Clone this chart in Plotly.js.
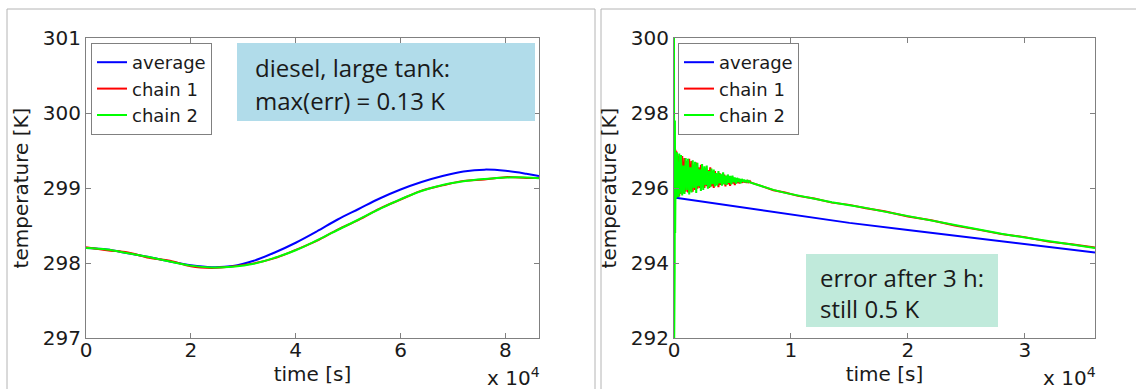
<!DOCTYPE html>
<html>
<head>
<meta charset="utf-8">
<script src="https://cdn.plot.ly/plotly-3.0.1.min.js"></script>
<style>
html,body{margin:0;padding:0;background:#fff;}
#chart{width:1136px;height:389px;}
</style>
</head>
<body>
<div id="chart"></div>
<script>
// ---------- Data: left panel (diesel, large tank) ----------
const timeLeft = [0, 4000, 8000, 12000, 16000, 20000, 24000, 28000, 32000, 36000, 40000, 44000,
  48000, 52000, 56000, 60000, 64000, 68000, 72000, 76000, 80000, 84000, 86400];
const avgLeft = [298.20, 298.18, 298.13, 298.08, 298.02, 297.97, 297.945, 297.96, 298.03, 298.14,
  298.27, 298.42, 298.58, 298.72, 298.86, 298.98, 299.08, 299.16, 299.22, 299.245, 299.23, 299.19, 299.16];
const chain1Left = [298.21, 298.17, 298.14, 298.07, 298.03, 297.955, 297.935, 297.955, 297.995, 298.065,
  298.175, 298.295, 298.445, 298.575, 298.725, 298.845, 298.965, 299.035, 299.095, 299.115, 299.145, 299.135, 299.135];
const chain2Left = [298.20, 298.18, 298.13, 298.08, 298.02, 297.965, 297.94, 297.95, 297.99, 298.07,
  298.17, 298.30, 298.44, 298.58, 298.72, 298.85, 298.96, 299.04, 299.09, 299.12, 299.14, 299.14, 299.13];

// ---------- Data: right panel ----------
const timeAvgRight = [0, 5000, 10000, 15000, 20000, 25000, 30000, 36000];
const avgRight = [295.75, 295.52, 295.29, 295.07, 294.88, 294.69, 294.50, 294.28];

const timeRight = [0, 20, 40, 60, 80, 100, 125, 150, 200, 250, 300, 350, 400, 450, 500,
  600, 700, 800, 900, 1000, 1100, 1200, 1300, 1400, 1500, 1600, 1700, 1800, 1900, 2000,
  2100, 2200, 2300, 2400, 2500, 2600, 2700, 2800, 2900, 3000, 3100, 3200, 3300, 3400, 3500,
  3600, 3700, 3800, 3900, 4000, 4100, 4200, 4300, 4400, 4500, 4600, 4700, 4800, 4900, 5000,
  5100, 5200, 5300, 5400, 5500, 5600, 5700, 5800, 5900, 6000, 6100, 6200, 6300, 6400, 6500, 6600,
  7500, 8500, 9500, 10600, 12000, 13500, 15000, 16400, 18000, 20000, 22000, 24000, 26000,
  28000, 30000, 32000, 34000, 36000];
const chain2Right = [300.0, 292.0, 299.0, 293.8, 297.8, 294.8, 295.2, 296.9, 295.73, 296.95, 295.78, 296.7, 295.76, 296.92, 295.85,
  296.88, 295.8, 296.6, 295.84, 296.8, 295.95, 296.78, 295.83, 296.55, 295.88, 296.74, 296.0, 296.7, 295.87, 296.67,
  296.05, 296.5, 295.92, 296.64, 295.95, 296.58, 296.08, 296.6, 295.98, 296.45, 296.02, 296.52, 296.1, 296.49, 296.04,
  296.4, 296.06, 296.45, 296.12, 296.38, 296.06, 296.42, 296.1, 296.33, 296.08, 296.36, 296.14, 296.32, 296.1, 296.33,
  296.15, 296.28, 296.12, 296.27, 296.16, 296.25, 296.13, 296.24, 296.17, 296.22, 296.15, 296.21, 296.16, 296.19, 296.15, 296.14,
  296.04, 295.95, 295.87, 295.80, 295.71, 295.62, 295.54, 295.47, 295.37, 295.25, 295.13, 295.01, 294.88,
  294.78, 294.68, 294.58, 294.49, 294.40];
const chain1Right = [297.0, 295.7, 297.05, 295.72, 296.98, 295.75, 297.02, 295.74, 296.98, 295.76, 296.9, 295.8, 296.85, 295.78, 296.82,
  295.85, 296.85, 295.86, 296.8, 295.9, 296.72, 295.88, 296.78, 295.92, 296.72, 295.9, 296.6, 295.95, 296.68, 295.98,
  296.55, 296.0, 296.62, 296.02, 296.5, 296.0, 296.52, 296.05, 296.48, 296.0, 296.55, 296.04, 296.42, 296.0, 296.45,
  296.08, 296.38, 296.02, 296.4, 296.08, 296.35, 296.1, 296.36, 296.04, 296.32, 296.1, 296.3, 296.06, 296.3, 296.12,
  296.27, 296.08, 296.26, 296.13, 296.24, 296.12, 296.23, 296.14, 296.21, 296.15, 296.2, 296.14, 296.19, 296.15, 296.18, 296.14,
  296.05, 295.94, 295.88, 295.79, 295.72, 295.61, 295.55, 295.46, 295.38, 295.24, 295.14, 295.00, 294.89,
  294.77, 294.69, 294.57, 294.50, 294.41];

// ---------- Tick labels ----------
const tickValsLeftX = [0, 20000, 40000, 60000, 80000];
const tickTextLeftX = ['0', '2', '4', '6', '8'];
const tickValsRightX = [0, 10000, 20000, 30000];
const tickTextRightX = ['0', '1', '2', '3'];
const seriesNames = ['average', 'chain 1', 'chain 2'];
const seriesColors = ['#0000ff', '#ff0000', '#00ff00'];

// ---------- Layout helpers ----------
const W = 1136, H = 389;
const px = x => x / W;
const py = y => 1 - y / H;
const mFont = {family: 'DejaVu Sans, Liberation Sans, sans-serif', size: 20, color: '#1a1a1a'};
const legFont = {family: 'DejaVu Sans, Liberation Sans, sans-serif', size: 18, color: '#1a1a1a'};
const boxFont = {family: 'Open Sans, sans-serif', size: 24, color: '#1a1a1a'};

function axisBase(extra) {
  return Object.assign({
    showgrid: false, zeroline: false, showline: true, linecolor: '#808080', linewidth: 1,
    mirror: 'ticks', ticks: 'inside', ticklen: 5, tickcolor: '#808080', tickwidth: 1,
    tickfont: mFont, fixedrange: true
  }, extra);
}

const traces = [];
const leftY = [avgLeft, chain1Left, chain2Left];
for (let i = 0; i < 3; i++) {
  traces.push({
    x: timeLeft, y: leftY[i], type: 'scatter', mode: 'lines', name: seriesNames[i],
    line: {color: seriesColors[i], width: 2, shape: 'spline'},
    xaxis: 'x', yaxis: 'y', legend: 'legend'
  });
}
const rightX = [timeAvgRight, timeRight, timeRight];
const rightY = [avgRight, chain1Right, chain2Right];
for (let i = 0; i < 3; i++) {
  traces.push({
    x: rightX[i], y: rightY[i], type: 'scatter', mode: 'lines', name: seriesNames[i],
    line: {color: seriesColors[i], width: 2},
    xaxis: 'x2', yaxis: 'y2', legend: 'legend2'
  });
}

const legendBase = {
  xanchor: 'left', yanchor: 'top', bgcolor: '#ffffff', bordercolor: '#808080', borderwidth: 1,
  font: legFont, tracegroupgap: 0, itemwidth: 30
};

const frameColor = '#b4b4b4';
const layout = {
  width: W, height: H, autosize: false,
  margin: {l: 0, r: 0, t: 0, b: 0, pad: 0},
  paper_bgcolor: '#ffffff', plot_bgcolor: '#ffffff',
  showlegend: true,
  xaxis: axisBase({domain: [px(86), px(539)], range: [0, 86400], tickvals: tickValsLeftX, ticktext: tickTextLeftX,
    anchor: 'y', ticklabelstandoff: -6, title: {text: 'time [s]', font: mFont, standoff: 4}}),
  yaxis: axisBase({domain: [py(338), py(38)], range: [297, 301], dtick: 1, tick0: 297,
    anchor: 'x', title: {text: 'temperature [K]', font: mFont, standoff: 8}}),
  xaxis2: axisBase({domain: [px(674), px(1095)], range: [0, 36000], tickvals: tickValsRightX, ticktext: tickTextRightX,
    anchor: 'y2', ticklabelstandoff: -6, title: {text: 'time [s]', font: mFont, standoff: 4}}),
  yaxis2: axisBase({domain: [py(338), py(38)], range: [292, 300], dtick: 2, tick0: 292,
    anchor: 'x2', title: {text: 'temperature [K]', font: mFont, standoff: 8}}),
  legend: Object.assign({x: px(91), y: py(43)}, legendBase),
  legend2: Object.assign({x: px(678), y: py(43)}, legendBase),
  shapes: [
    // panel frames
    {type: 'line', xref: 'paper', yref: 'paper', x0: px(7), x1: px(595), y0: py(9), y1: py(9), line: {color: frameColor, width: 1}},
    {type: 'line', xref: 'paper', yref: 'paper', x0: px(7), x1: px(7), y0: py(9), y1: 0, line: {color: frameColor, width: 1}},
    {type: 'line', xref: 'paper', yref: 'paper', x0: px(595), x1: px(595), y0: py(9), y1: 0, line: {color: frameColor, width: 1}},
    {type: 'line', xref: 'paper', yref: 'paper', x0: px(601), x1: 1, y0: py(9), y1: py(9), line: {color: frameColor, width: 1}},
    {type: 'line', xref: 'paper', yref: 'paper', x0: px(601), x1: px(601), y0: py(9), y1: 0, line: {color: frameColor, width: 1}},
    // text boxes
    {type: 'rect', xref: 'paper', yref: 'paper', x0: px(237), x1: px(535), y0: py(121), y1: py(43),
      fillcolor: '#b1dcea', line: {width: 0}, layer: 'above'},
    {type: 'rect', xref: 'paper', yref: 'paper', x0: px(806), x1: px(998), y0: py(327), y1: py(254),
      fillcolor: '#c0eadb', line: {width: 0}, layer: 'above'}
  ],
  annotations: [
    {xref: 'paper', yref: 'paper', x: px(253), y: py(68), xanchor: 'left', yanchor: 'middle', showarrow: false,
      text: 'diesel, large tank:', font: boxFont},
    {xref: 'paper', yref: 'paper', x: px(253), y: py(100), xanchor: 'left', yanchor: 'middle', showarrow: false,
      text: 'max(err) = 0.13 K', font: boxFont},
    {xref: 'paper', yref: 'paper', x: px(818), y: py(277), xanchor: 'left', yanchor: 'middle', showarrow: false,
      text: 'error after 3 h:', font: boxFont},
    {xref: 'paper', yref: 'paper', x: px(818), y: py(308), xanchor: 'left', yanchor: 'middle', showarrow: false,
      text: 'still 0.5 K', font: boxFont},
    {xref: 'paper', yref: 'paper', x: px(542), y: py(377), xanchor: 'right', yanchor: 'middle', showarrow: false,
      text: 'x 10<sup>4</sup>', font: mFont},
    {xref: 'paper', yref: 'paper', x: px(1098), y: py(377), xanchor: 'right', yanchor: 'middle', showarrow: false,
      text: 'x 10<sup>4</sup>', font: mFont}
  ]
};

Plotly.newPlot('chart', traces, layout, {staticPlot: true, displayModeBar: false});
</script>
</body>
</html>
